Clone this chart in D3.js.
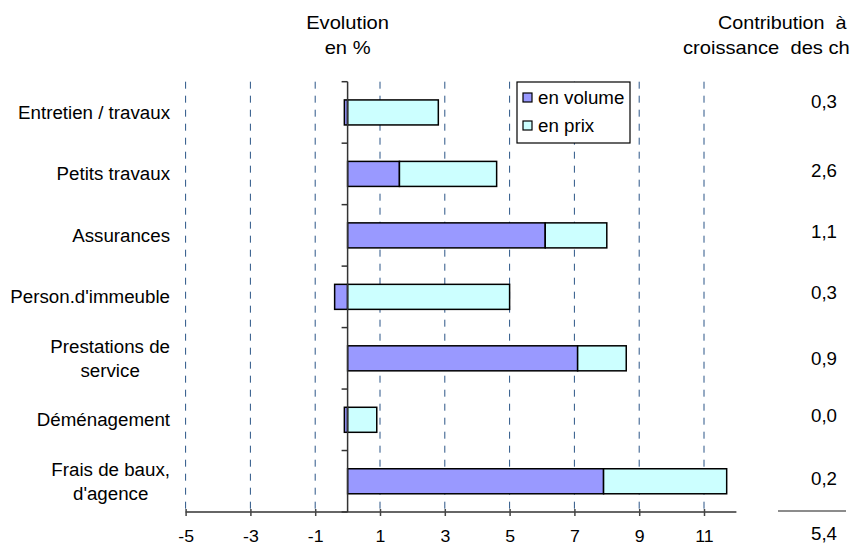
<!DOCTYPE html>
<html>
<head>
<meta charset="utf-8">
<script src="https://cdn.jsdelivr.net/npm/d3@7"></script>
<style>
  html, body { margin: 0; padding: 0; background: #fff; }
  svg { display: block; font-family: "Liberation Sans", Arial, sans-serif; }
  text { fill: #000; white-space: pre; }
</style>
</head>
<body>
<svg id="chart" width="850" height="546"></svg>
<script>
// Postes de charges (libellés sur une ou deux lignes)
const categories = [
  "Entretien / travaux",
  "Petits travaux",
  "Assurances",
  "Person.d'immeuble",
  "Prestations de service",
  "Déménagement",
  "Frais de baux, d'agence"
];
const labelLines = [
  ["Entretien / travaux"],
  ["Petits travaux"],
  ["Assurances"],
  ["Person.d'immeuble"],
  ["Prestations de", "service"],
  ["Déménagement"],
  ["Frais de baux,", "d'agence"]
];
// Evolution en % : part volume et part prix
const volume = [-0.1, 1.6, 6.1, -0.4, 7.1, -0.1, 7.9];
const prix   = [ 2.8, 3.0, 1.9,  5.0, 1.5,  0.9, 3.8];
// Contribution à la croissance des charges
const contributions = ["0,3", "2,6", "1,1", "0,3", "0,9", "0,0", "0,2"];
const contributionTotal = "5,4";
const xTicks = [-5, -3, -1, 1, 3, 5, 7, 9, 11];
const seriesNames = ["en volume", "en prix"];

const svg = d3.select("#chart");
const FONT = 18, STRETCH = 1.04;

// léger élargissement horizontal des textes
function widen(sel, f = STRETCH) {
  sel.each(function () {
    const w = this.getComputedTextLength();
    if (w > 0) {
      this.setAttribute("textLength", (w * f).toFixed(2));
      this.setAttribute("lengthAdjust", "spacingAndGlyphs");
    }
  });
  return sel;
}

const x = d3.scaleLinear().domain([-5, 12]).range([185.6, 736.4]);
const y = d3.scaleBand().domain(categories).range([81.7, 512])
  .paddingInner(0.593).paddingOuter(0.2965);

const rows = categories.map((c, i) => ({ cat: c, volume: volume[i], prix: prix[i] }));
const stacked = d3.stack().keys(["volume", "prix"]).offset(d3.stackOffsetDiverging)(rows);
const colors = { volume: "#9999FF", prix: "#CCFFFF" };

// Grille verticale en tirets
svg.append("g").selectAll("line").data(xTicks).join("line")
  .attr("x1", d => x(d)).attr("x2", d => x(d))
  .attr("y1", y.range()[0]).attr("y2", y.range()[1])
  .attr("stroke", "#2b5587").attr("stroke-width", 1)
  .attr("stroke-dasharray", "7,7");

// Barres empilées
svg.append("g").selectAll("g").data(stacked).join("g")
  .attr("fill", d => colors[d.key])
  .selectAll("rect").data(d => d).join("rect")
  .attr("x", d => x(Math.min(d[0], d[1])))
  .attr("width", d => Math.abs(x(d[1]) - x(d[0])))
  .attr("y", d => y(d.data.cat))
  .attr("height", y.bandwidth())
  .attr("stroke", "#000").attr("stroke-width", 1.5);

// Axe horizontal
const xAxis = svg.append("g").attr("transform", `translate(0,${y.range()[1]})`)
  .call(d3.axisBottom(x).tickValues(xTicks).tickSizeInner(4).tickSizeOuter(0).tickPadding(0)
    .tickFormat(d3.format("d")));
xAxis.select(".domain").attr("stroke", "#666").attr("stroke-width", 2)
  .attr("d", `M${x(-5)},0H${x(12)}`);
xAxis.selectAll(".tick line").attr("stroke", "#444").attr("stroke-width", 1.5).attr("y1", -3).attr("y2", 4);
xAxis.selectAll(".tick text").attr("y", 30).attr("dy", 0)
  .attr("font-size", 17).attr("font-family", "Liberation Sans, Arial, sans-serif").attr("fill", "#000")
  .text(d => d < 0 ? "-" + Math.abs(d) : d);
widen(xAxis.selectAll(".tick text"));

// Axe des catégories (à zéro)
const bounds = categories.map(c => y(c) - y.step() * y.paddingInner() / 2).concat([y.range()[1]]);
const yAxis = svg.append("g");
yAxis.append("line").attr("x1", x(0)).attr("x2", x(0))
  .attr("y1", y.range()[0]).attr("y2", y.range()[1])
  .attr("stroke", "#333").attr("stroke-width", 1.5);
yAxis.selectAll("line.tk").data(bounds).join("line").attr("class", "tk")
  .attr("x1", x(0) - 6).attr("x2", x(0)).attr("y1", d => d).attr("y2", d => d)
  .attr("stroke", "#333").attr("stroke-width", 1.5);

// Libellés des catégories, bloc aligné à droite, lignes centrées
const labelRight = 170, lineGap = 24;
labelLines.forEach((lines, i) => {
  const cy = y(categories[i]) + y.bandwidth() / 2;
  const g = svg.append("g");
  const ts = g.selectAll("text").data(lines).join("text")
    .attr("font-size", FONT)
    .attr("y", (d, j) => cy + (j - (lines.length - 1) / 2) * lineGap + 6.5)
    .text(d => d);
  widen(ts);
  const maxW = d3.max(ts.nodes(), n => +n.getAttribute("textLength"));
  ts.attr("text-anchor", "middle").attr("x", labelRight - maxW / 2);
});

// Légende
const lg = svg.append("g");
lg.append("rect").attr("x", 517).attr("y", 82).attr("width", 113).attr("height", 61)
  .attr("fill", "#fff").attr("stroke", "#000").attr("stroke-width", 1.2);
seriesNames.forEach((name, i) => {
  const cy = 98 + i * 28;
  lg.append("rect").attr("x", 523).attr("y", cy - 5).attr("width", 9).attr("height", 9)
    .attr("fill", colors[["volume", "prix"][i]]).attr("stroke", "#000").attr("stroke-width", 1.2);
  widen(lg.append("text").attr("x", 538).attr("y", cy + 6).attr("font-size", FONT).text(name));
});

// En-têtes
const hdr = svg.append("g").attr("font-size", 19);
widen(hdr.append("text").attr("x", x(0)).attr("y", 29).attr("text-anchor", "middle").text("Evolution"), 1.06);
widen(hdr.append("text").attr("x", x(0)).attr("y", 54).attr("text-anchor", "middle").text("en %"), 1.06);
widen(hdr.append("text").attr("x", 718).attr("y", 29).text("Contribution  à la"), 1.04);
widen(hdr.append("text").attr("x", 683).attr("y", 54).text("croissance  des charges"), 1.06);

// Colonne des contributions
const nudge = [-11, -3, -4, -4, 0, -4, -3];
const col = svg.append("g").attr("font-size", FONT).attr("text-anchor", "middle");
widen(col.selectAll("text.v").data(contributions).join("text").attr("class", "v")
  .attr("x", 824)
  .attr("y", (d, i) => y(categories[i]) + y.bandwidth() / 2 + nudge[i] + 6.5)
  .text(d => d));
col.append("line").attr("x1", 778).attr("x2", 846).attr("y1", 511).attr("y2", 511)
  .attr("stroke", "#666").attr("stroke-width", 1.5);
widen(col.append("text").attr("x", 824).attr("y", 540).text(contributionTotal));
</script>
</body>
</html>
